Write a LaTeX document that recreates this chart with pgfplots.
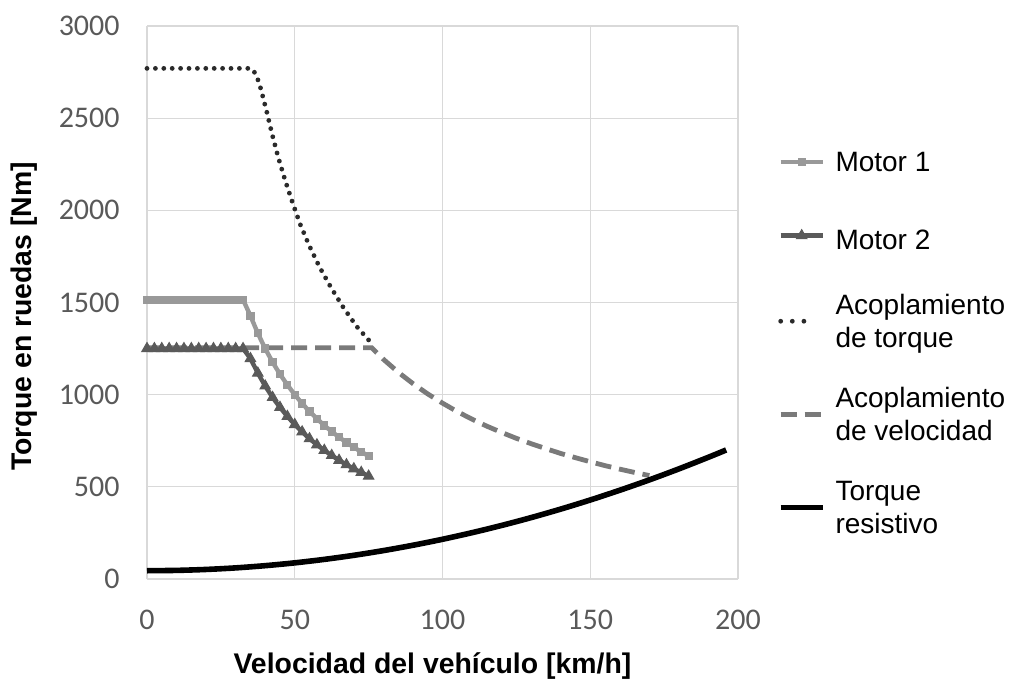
\documentclass[border=0pt]{standalone}
\usepackage{fontspec}
\setmainfont{Liberation Sans}
\newfontfamily\tickfont{Carlito}
\usepackage{pgfplots}
\pgfplotsset{compat=1.18}
\definecolor{gridc}{HTML}{D9D9D9}
\definecolor{tickc}{HTML}{595959}
\definecolor{mone}{HTML}{999999}
\definecolor{mtwo}{HTML}{5A5A5A}
\definecolor{dotc}{HTML}{2A2A2A}
\definecolor{dashc}{HTML}{7A7A7A}
\pgfplotsset{dotlegend/.style={legend image code/.code={\draw[##1, dash pattern=on 0pt off 5.8pt] (0pt,0pt) -- (12pt,0pt);}}}
\begin{document}
\begin{tikzpicture}
\useasboundingbox (0,0) rectangle (505pt,342pt);
\begin{axis}[
  at={(73.5pt,52.5pt)}, anchor=south west,
  scale only axis, width=295.5pt, height=276.5pt,
  xmin=0, xmax=200, ymin=0, ymax=3000,
  xtick={0,50,...,200}, ytick={0,500,...,3000},
  grid=major, major grid style={gridc, line width=0.6pt},
  axis line style={draw=none}, major tick length=0pt,
  tick label style={font=\tickfont\fontsize{15}{18}\selectfont, text=tickc, inner sep=0pt},
  /pgf/number format/assume math mode=true,
  /pgf/number format/1000 sep={},
  yticklabel style={anchor=east, xshift=-13.5pt},
  xticklabel style={anchor=north, yshift=-15.5pt},
  xlabel={Velocidad del vehículo [km/h]},
  ylabel={Torque en ruedas [Nm]},
  label style={font=\bfseries\fontsize{14.2}{17}\selectfont, inner sep=0pt},
  xlabel style={at={(axis description cs:0.483,-0.132)}, anchor=north},
  ylabel style={at={(axis description cs:-0.208,0.475)}, anchor=center},
  clip=false,
  legend cell align=left,
  legend style={draw=none, fill=none, inner sep=0pt, outer sep=0pt, row sep=17pt, column sep=5pt,
     at={(axis cs:213.5,2360)}, anchor=north west,
     nodes={inner sep=0pt, align=left, font=\fontsize{14}{16.5}\selectfont}},
  legend image code/.code={\draw[mark repeat=2,mark phase=2,#1] plot coordinates {(0pt,0pt)(10.5pt,0pt)(21pt,0pt)};},
]
% Motor 1
\addplot[mone, line width=2.2pt, mark=square*, mark size=1.8pt, mark options={solid, line width=0.5pt}] coordinates {
(0,1515)(2.5,1515)(5,1515)(7.5,1515)(10,1515)(12.5,1515)(15,1515)(17.5,1515)(20,1515)(22.5,1515)(25,1515)(27.5,1515)(30,1515)(32.5,1515)
(35,1428)(37.5,1333)(40,1250)(42.5,1176)(45,1111)(47.5,1053)(50,1000)(52.5,952)(55,909)(57.5,870)(60,833)(62.5,800)(65,769)(67.5,741)(70,714)(72.5,690)(75,667)};
\addlegendentry{\rule[-13pt]{0pt}{29.35pt}\raisebox{2.5pt}{Motor 1}}
% Motor 2
\addplot[mtwo, line width=2.2pt, mark=triangle*, mark size=3pt, mark options={solid, line width=0.5pt}] coordinates {
(0,1250)(2.5,1250)(5,1250)(7.5,1250)(10,1250)(12.5,1250)(15,1250)(17.5,1250)(20,1250)(22.5,1250)(25,1250)(27.5,1250)(30,1250)(32.5,1250)
(35,1196)(37.5,1117)(40,1047)(42.5,985)(45,931)(47.5,882)(50,838)(52.5,798)(55,761)(57.5,728)(60,698)(62.5,670)(65,644)(67.5,620)(70,598)(72.5,578)(75,558)};
\addlegendentry{\rule[-19.65pt]{0pt}{40.15pt}\raisebox{2.5pt}{Motor 2}}
% Acoplamiento de torque
\addplot[dotc, line width=2.4pt, line cap=round, dash pattern=on 0pt off 4.2pt, dotlegend] coordinates {
(0,2770)(35,2770)(36,2760)(37.3,2720)(38.5,2660)(40.5,2536)(42.4,2409)(44.4,2288)(46.7,2165)(49.2,2044)(51.8,1926)(54.8,1812)(58.3,1695)(62.2,1583)(66.4,1474)(71,1369)(76.2,1275)};
\addlegendentry{\strut Acoplamiento\\\strut de torque}
% Acoplamiento de velocidad
\addplot[dashc, line width=2.4pt, dash pattern=on 8pt off 4pt] coordinates {
(0,1255)(76,1255)(80,1192)(85,1122)(90,1060)(95,1004)(100,954)(105,908)(110,867)(115,829)(120,795)(125,763)(130,734)(135,707)(140,681)(145,658)(150,636)(155,615)(160,596)(165,578)(170,561)};
\addlegendentry{\strut Acoplamiento\\\strut de velocidad}
% Torque resistivo
\addplot[black, line width=2.8pt, smooth] coordinates {
(0,45)(10,46.7)(20,51.8)(30,60.3)(40,72.3)(50,87.6)(60,106.4)(70,128.5)(80,154.1)(90,183.1)(100,215.5)(110,251.3)(120,290.5)(130,333.1)(140,379.2)(150,428.6)(160,481.5)(170,537.7)(180,597.4)(190,660.5)(196,700)};
\addlegendentry{\strut Torque\\\strut resistivo}
\end{axis}
\end{tikzpicture}
\end{document}
